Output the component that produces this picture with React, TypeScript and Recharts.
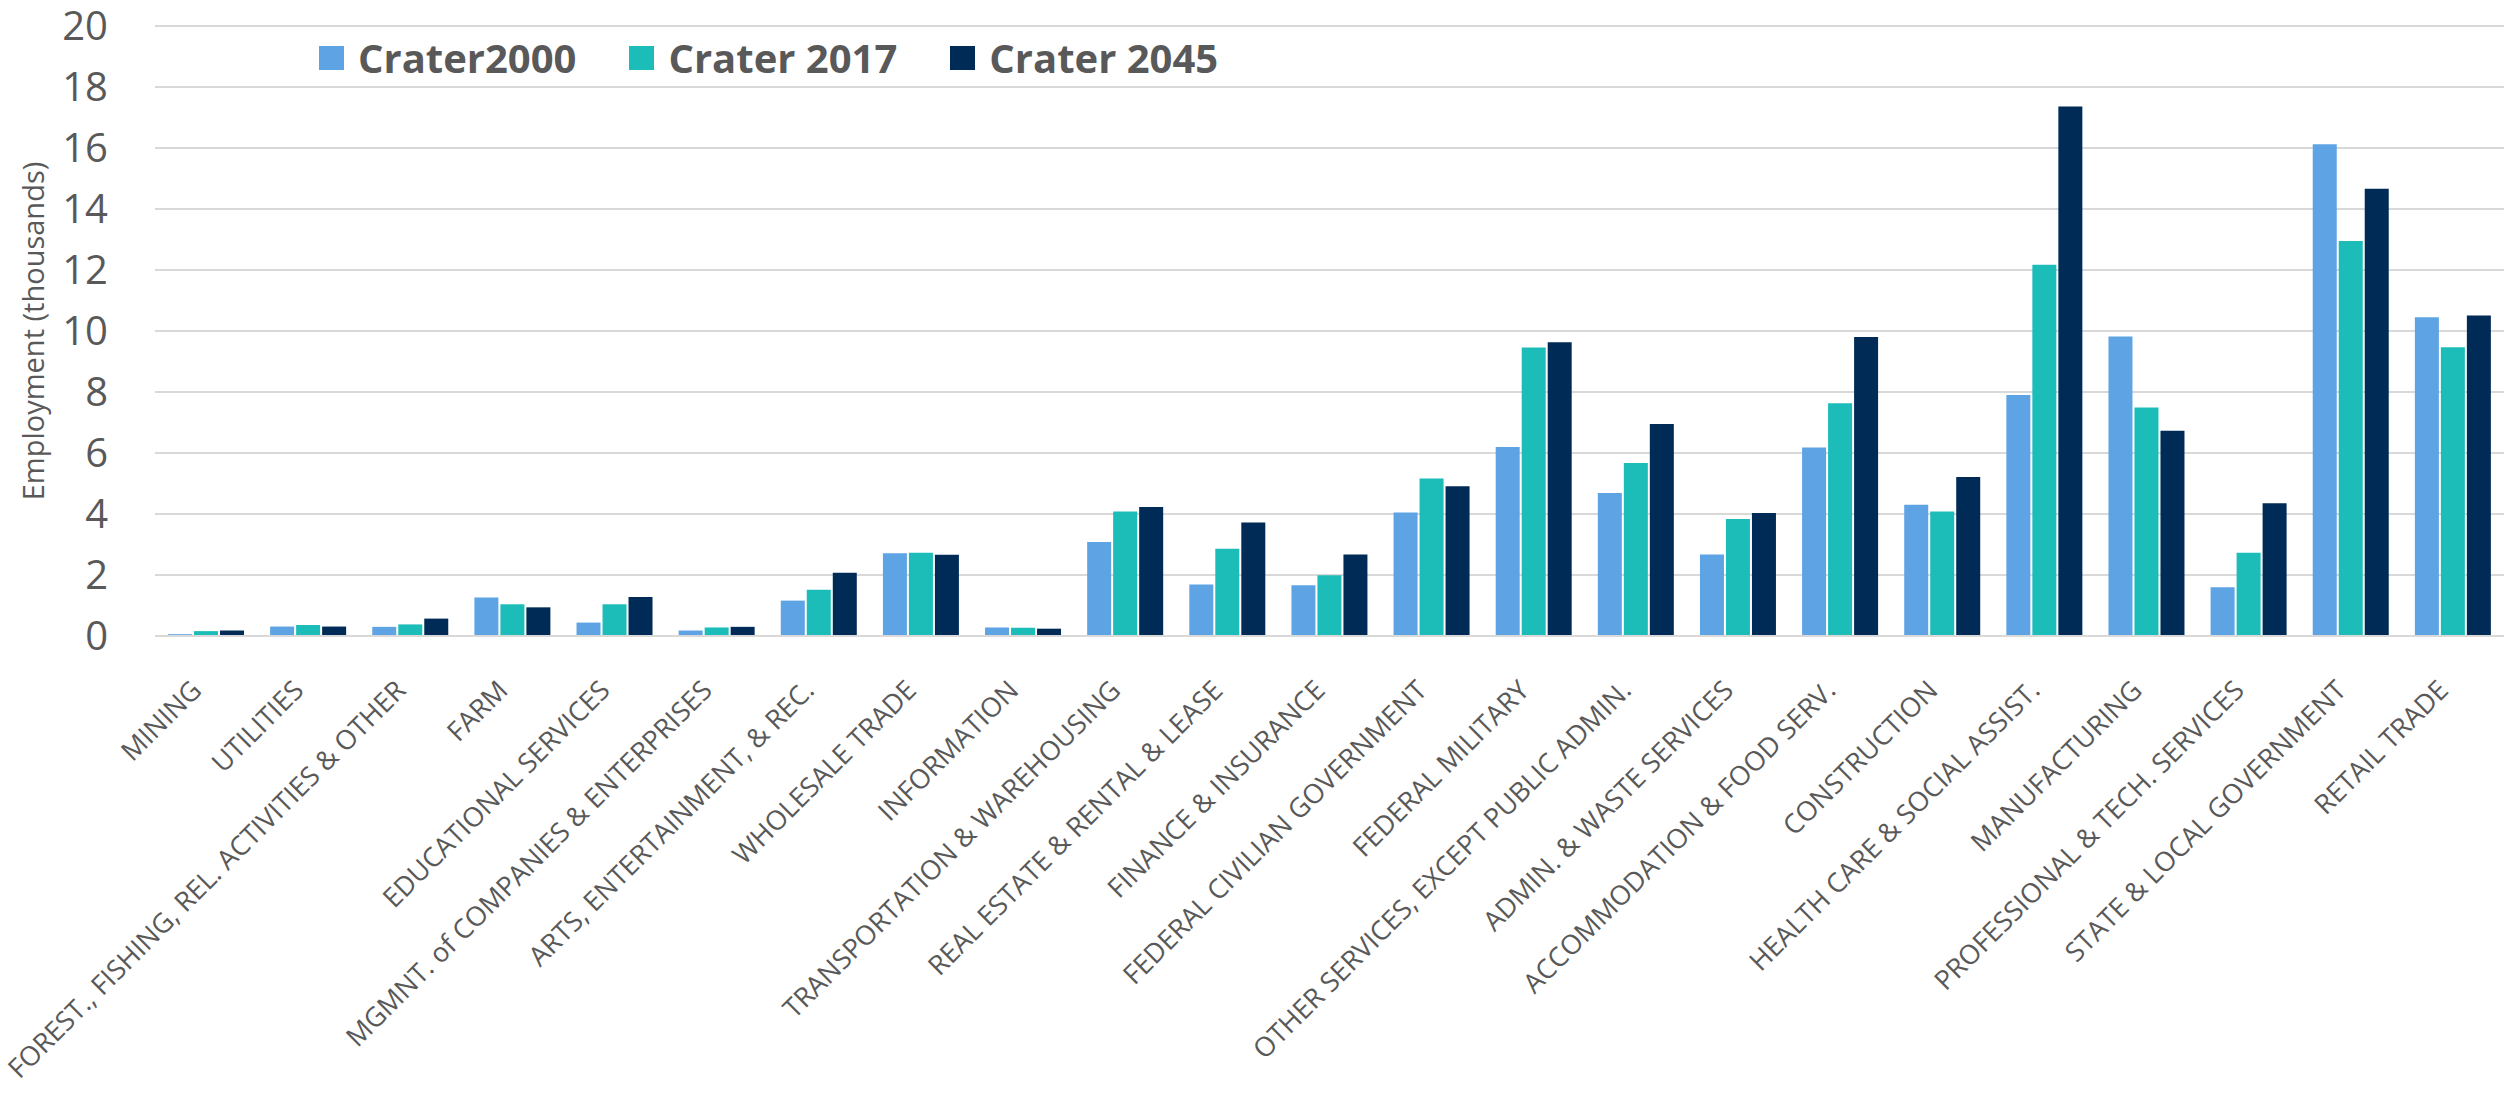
import { Bar, BarChart, CartesianGrid, XAxis, YAxis } from "recharts";

const categories = [
  "MINING",
  "UTILITIES",
  "FOREST., FISHING, REL. ACTIVITIES & OTHER",
  "FARM",
  "EDUCATIONAL SERVICES",
  "MGMNT. of COMPANIES & ENTERPRISES",
  "ARTS, ENTERTAINMENT, & REC.",
  "WHOLESALE TRADE",
  "INFORMATION",
  "TRANSPORTATION & WAREHOUSING",
  "REAL ESTATE & RENTAL & LEASE",
  "FINANCE & INSURANCE",
  "FEDERAL CIVILIAN GOVERNMENT",
  "FEDERAL MILITARY",
  "OTHER SERVICES, EXCEPT PUBLIC ADMIN.",
  "ADMIN. & WASTE SERVICES",
  "ACCOMMODATION & FOOD SERV.",
  "CONSTRUCTION",
  "HEALTH CARE & SOCIAL ASSIST.",
  "MANUFACTURING",
  "PROFESSIONAL & TECH. SERVICES",
  "STATE & LOCAL GOVERNMENT",
  "RETAIL TRADE",
];

const crater2000 = [
  0.06, 0.31, 0.3, 1.26, 0.44, 0.18, 1.16, 2.71, 0.28, 3.08, 1.69, 1.66,
  4.05, 6.2, 4.69, 2.67, 6.18, 4.3, 7.9, 9.82, 1.6, 16.12, 10.45,
];
const crater2017 = [
  0.16, 0.36, 0.38, 1.04, 1.04, 0.28, 1.52, 2.73, 0.27, 4.08, 2.86, 1.99,
  5.16, 9.46, 5.67, 3.84, 7.63, 4.08, 12.17, 7.49, 2.73, 12.95, 9.47,
];
const crater2045 = [
  0.18, 0.31, 0.57, 0.94, 1.28, 0.3, 2.07, 2.66, 0.24, 4.23, 3.72, 2.67,
  4.91, 9.63, 6.95, 4.03, 9.8, 5.21, 17.36, 6.73, 4.35, 14.66, 10.51,
];

const yTicks = [0, 2, 4, 6, 8, 10, 12, 14, 16, 18, 20];

const series = [
  { key: "c2000", name: "Crater2000", color: "#5EA3E4" },
  { key: "c2017", name: "Crater 2017", color: "#1CBCB8" },
  { key: "c2045", name: "Crater 2045", color: "#002B56" },
];

const data = categories.map((name, i) => ({
  name,
  c2000: crater2000[i],
  c2017: crater2017[i],
  c2045: crater2045[i],
}));

const FONT = "'Open Sans', 'DejaVu Sans', sans-serif";
const GREY = "#595959";

function XTick({ x, y, payload }: any) {
  const px = x - 3;
  const py = y + 56;
  return (
    <text
      x={px}
      y={py}
      transform={`rotate(-45, ${px}, ${py})`}
      textAnchor="end"
      fill={GREY}
      fontSize={27}
      fontFamily={FONT}
    >
      {payload.value}
    </text>
  );
}

function YTick({ x, y, payload }: any) {
  return (
    <text
      x={x - 47}
      y={y}
      dy="0.36em"
      textAnchor="end"
      fill={GREY}
      fontSize={40}
      fontFamily={FONT}
    >
      {payload.value}
    </text>
  );
}

// legend sits over the plot, like the Excel original
function LegendBox() {
  return (
    <div
      style={{
        position: "absolute",
        top: 38,
        left: 319,
        display: "flex",
        alignItems: "center",
        fontFamily: FONT,
      }}
    >
      {series.map((s, i) => (
        <div
          key={s.key}
          style={{ display: "flex", alignItems: "center", marginLeft: i === 0 ? 0 : 53 }}
        >
          <span style={{ width: 25, height: 24, background: s.color, display: "inline-block" }} />
          <span
            style={{
              marginLeft: 14,
              fontSize: 40,
              lineHeight: "40px",
              fontWeight: 700,
              color: GREY,
              whiteSpace: "nowrap",
            }}
          >
            {s.name}
          </span>
        </div>
      ))}
    </div>
  );
}

export default function App() {
  return (
    <div style={{ position: "absolute", left: 0, top: 0, width: 2504, height: 1094, background: "#fff" }}>
      <BarChart
        width={2504}
        height={1094}
        data={data}
        margin={{ top: 26, right: 0, bottom: 58, left: 0 }}
        barCategoryGap={13}
        barGap={2}
      >
        <CartesianGrid vertical={false} stroke="#D9D9D9" strokeWidth={2} />
        <XAxis
          dataKey="name"
          interval={0}
          height={400}
          tickLine={false}
          tickSize={0}
          tickMargin={0}
          axisLine={{ stroke: "#D9D9D9", strokeWidth: 2 }}
          tick={<XTick />}
        />
        <YAxis
          width={155}
          domain={[0, 20]}
          ticks={yTicks}
          interval={0}
          axisLine={false}
          tickLine={false}
          tickSize={0}
          tickMargin={0}
          tick={<YTick />}
          label={() => (
            <text
              x={44}
              y={331}
              transform="rotate(-90, 44, 331)"
              textAnchor="middle"
              fill={GREY}
              fontSize={29}
              fontFamily={FONT}
            >
              Employment (thousands)
            </text>
          )}
        />
        {series.map((s) => (
          <Bar
            key={s.key}
            dataKey={s.key}
            name={s.name}
            fill={s.color}
            isAnimationActive={false}
          />
        ))}
      </BarChart>
      <LegendBox />
    </div>
  );
}
